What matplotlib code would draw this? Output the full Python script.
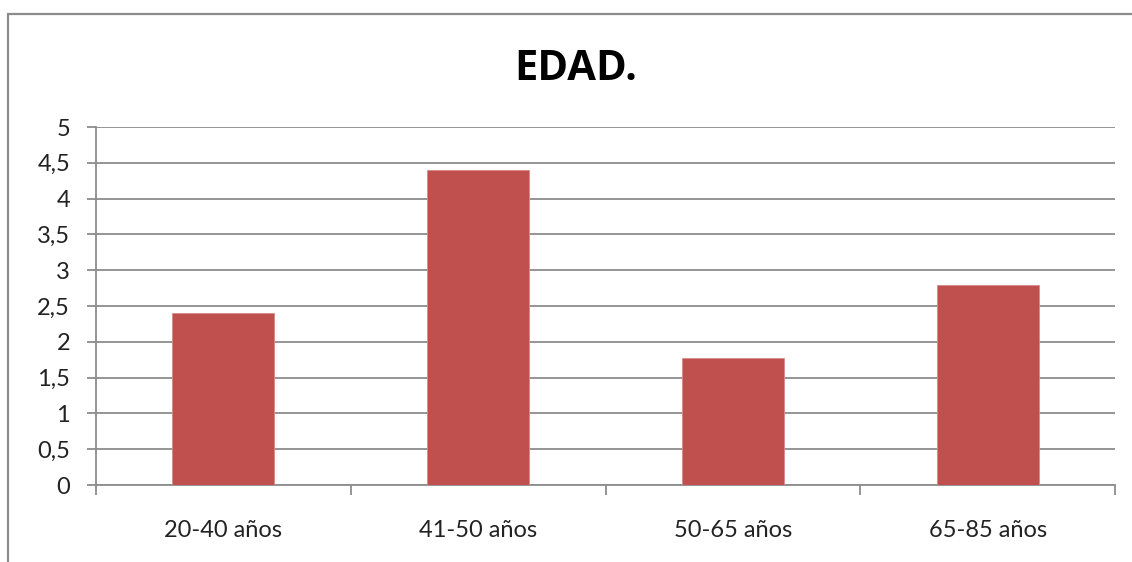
import matplotlib
matplotlib.use("Agg")
import matplotlib.pyplot as plt
from matplotlib.patches import Rectangle

categories = ["20-40 años", "41-50 años", "50-65 años", "65-85 años"]
values = [2.4, 4.4, 1.78, 2.79]
yticks = [0, 0.5, 1, 1.5, 2, 2.5, 3, 3.5, 4, 4.5, 5]
ytick_labels = ["0", "0,5", "1", "1,5", "2", "2,5", "3", "3,5", "4", "4,5", "5"]
title = "EDAD."

W, H = 1132, 562
fig = plt.figure(figsize=(W / 100, H / 100), dpi=100)
fig.patch.set_facecolor("white")

# outer chart border
fig.patches.append(Rectangle((8 / W, -0.05), 1.2, (H - 14) / H + 0.05,
                             transform=fig.transFigure, fill=False,
                             edgecolor="#8c8c8c", linewidth=1.6))

left, right = 96 / W, 1115 / W
bottom, top = 1 - 485 / H, 1 - 127 / H
ax = fig.add_axes([left, bottom, right - left, top - bottom])

x = list(range(len(categories)))
ax.bar(x, values, width=0.4, color="#c0504d", edgecolor="#d98a88", linewidth=0.6, zorder=3)
ax.set_xlim(-0.5, len(categories) - 0.5)
ax.set_ylim(0, 5)

gray = "#8c8c8c"
ax.set_yticks(yticks)
ax.set_yticklabels(ytick_labels)
ax.yaxis.grid(True, color=gray, linewidth=1.3, zorder=0)
ax.set_axisbelow(True)
ax.set_xticks(x)
ax.set_xticklabels(categories)
ax.tick_params(axis="x", length=0, pad=25)
ax.set_xticks([i - 0.5 for i in range(len(categories) + 1)], minor=True)
ax.tick_params(axis="x", which="minor", length=7, color=gray, width=1.3, direction="out")
ax.tick_params(axis="y", length=6.7, color=gray, width=1.3, pad=12)
for lab in ax.get_xticklabels() + ax.get_yticklabels():
    lab.set_fontfamily("Lato")
    lab.set_fontsize(17)
    lab.set_color("#222222")

for s in ["top", "right"]:
    ax.spines[s].set_visible(False)
for s in ["left", "bottom"]:
    ax.spines[s].set_color(gray)
    ax.spines[s].set_linewidth(1.3)

fig.text(576 / W, 1 - 70 / H, title, ha="center", va="center",
         fontsize=30, fontweight="bold", fontfamily="Open Sans", color="black")

fig.savefig("out.png", dpi=100)
